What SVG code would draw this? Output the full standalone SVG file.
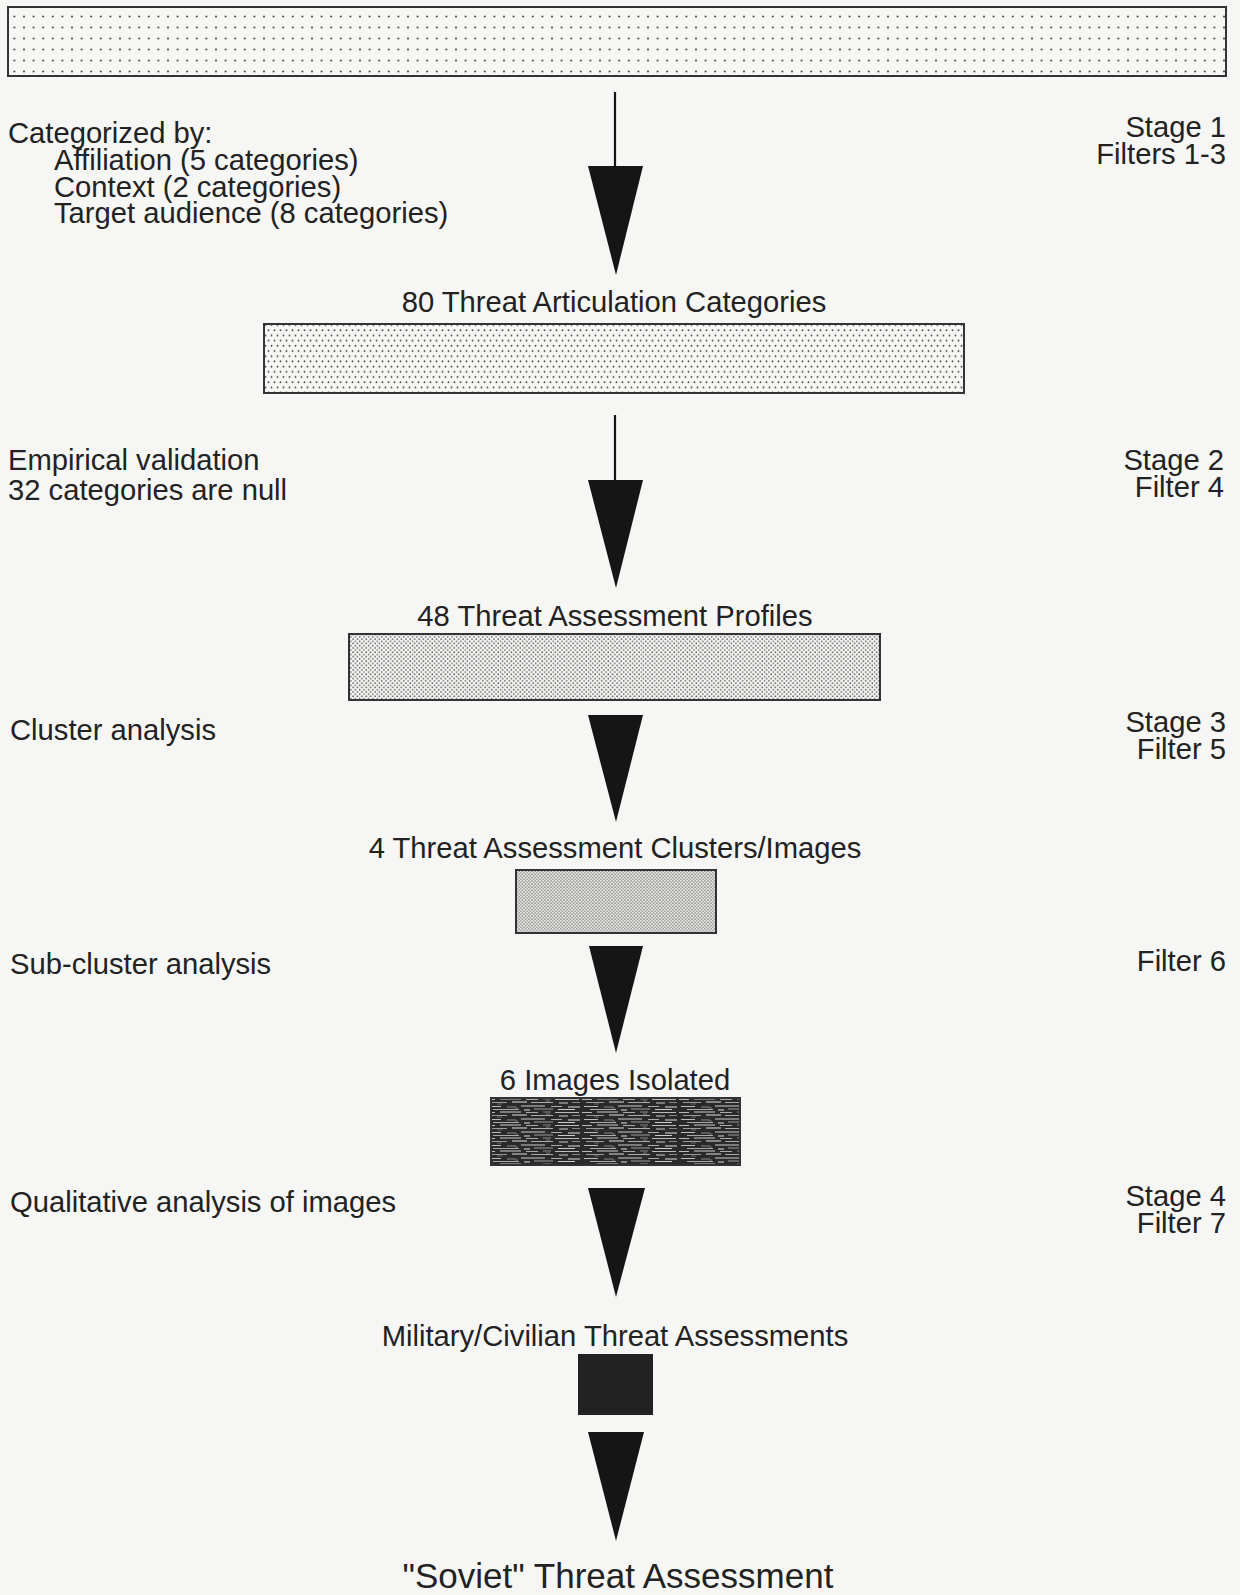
<svg xmlns="http://www.w3.org/2000/svg" width="1240" height="1595" viewBox="0 0 1240 1595">
<style>
.t{font-family:"Liberation Sans",Arial,Helvetica,sans-serif;font-size:29.2px;fill:#222}
.m{text-anchor:middle}
.r{text-anchor:end}
.box{stroke:#333;stroke-width:2}
.tri{fill:#151515}
.ln{stroke:#151515;stroke-width:2.2;fill:none}
</style>
<defs>
<pattern id="p1" width="9.6" height="11" patternUnits="userSpaceOnUse"><circle cx="4.8" cy="5.5" r="1" fill="#444"/></pattern>
<pattern id="p2" width="6" height="10.4" patternUnits="userSpaceOnUse"><circle cx="1.5" cy="2.6" r="0.95" fill="#444"/><circle cx="4.5" cy="7.8" r="0.95" fill="#444"/></pattern>
<pattern id="p3" width="4.4" height="4.4" patternUnits="userSpaceOnUse"><circle cx="1.1" cy="1.1" r="0.85" fill="#555"/><circle cx="3.3" cy="3.3" r="0.85" fill="#666"/></pattern>
<pattern id="p4" width="3.2" height="3.2" patternUnits="userSpaceOnUse"><rect width="3.2" height="3.2" fill="#e6e6e4"/><circle cx="0.8" cy="0.8" r="0.7" fill="#666"/><circle cx="2.4" cy="2.4" r="0.7" fill="#777"/></pattern>
<pattern id="p5" width="97" height="13" patternUnits="userSpaceOnUse"><rect width="97" height="13" fill="#2a2a2a"/>
<rect x="2" y="1" width="14" height="1" fill="#bbb"/><rect x="22" y="1.5" width="9" height="1" fill="#888"/><rect x="36" y="0.5" width="24" height="1" fill="#ccc"/><rect x="66" y="1" width="11" height="1" fill="#aaa"/><rect x="83" y="1.5" width="12" height="1" fill="#ddd"/>
<rect x="8" y="4" width="26" height="1" fill="#aaa"/><rect x="39" y="4.5" width="6" height="1" fill="#ddd"/><rect x="49" y="3.5" width="19" height="1" fill="#999"/><rect x="73" y="4" width="17" height="1" fill="#ccc"/>
<rect x="0" y="7" width="10" height="1" fill="#bbb"/><rect x="15" y="6.5" width="21" height="1" fill="#ccc"/><rect x="41" y="7" width="12" height="1" fill="#aaa"/><rect x="58" y="6.5" width="8" height="1" fill="#888"/><rect x="70" y="7" width="24" height="1" fill="#bbb"/>
<rect x="4" y="10" width="18" height="1" fill="#999"/><rect x="27" y="9.5" width="15" height="1" fill="#ddd"/><rect x="46" y="10" width="22" height="1" fill="#aaa"/><rect x="74" y="10.5" width="9" height="1" fill="#ccc"/><rect x="87" y="10" width="8" height="1" fill="#888"/>
<rect x="30" y="2.5" width="3" height="1" fill="#777"/><rect x="61" y="8.5" width="4" height="1" fill="#777"/><rect x="12" y="11.5" width="5" height="1" fill="#666"/></pattern>
</defs>
<rect width="1240" height="1595" fill="#f6f6f4"/>

<g id="node-input">
<rect class="box" x="8" y="7" width="1218" height="69" fill="url(#p1)"/>
</g>

<g id="connectors">
<g id="arrow1"><line class="ln" x1="615" y1="92" x2="615" y2="170"/><polygon class="tri" points="588,166 643,166 616,275"/></g>
<g id="arrow2"><line class="ln" x1="615" y1="415" x2="615" y2="484"/><polygon class="tri" points="588,480 643,480 616,588"/></g>
<g id="arrow3"><polygon class="tri" points="588,715 643,715 616,822"/></g>
<g id="arrow4"><polygon class="tri" points="589,946 643,946 616,1053"/></g>
<g id="arrow5"><polygon class="tri" points="588,1188 645,1188 616,1297"/></g>
<g id="arrow6"><polygon class="tri" points="588,1432 644,1432 616,1541"/></g>
</g>

<g id="stage1-labels">
<text class="t" x="8" y="143">Categorized by:</text>
<text class="t" x="54" y="170">Affiliation (5 categories)</text>
<text class="t" x="54" y="197">Context (2 categories)</text>
<text class="t" x="54" y="223">Target audience (8 categories)</text>
<text class="t r" x="1226" y="137">Stage 1</text>
<text class="t r" x="1226" y="164">Filters 1-3</text>
</g>

<g id="node-80">
<text class="t m" x="614" y="312">80 Threat Articulation Categories</text>
<rect class="box" x="264" y="324" width="700" height="69" fill="url(#p2)"/>
</g>

<g id="stage2-labels">
<text class="t" x="8" y="470">Empirical validation</text>
<text class="t" x="8" y="500">32 categories are null</text>
<text class="t r" x="1224" y="470">Stage 2</text>
<text class="t r" x="1224" y="497">Filter 4</text>
</g>

<g id="node-48">
<text class="t m" x="615" y="626">48 Threat Assessment Profiles</text>
<rect class="box" x="349" y="634" width="531" height="66" fill="url(#p3)"/>
</g>

<g id="stage3-labels">
<text class="t" x="10" y="740">Cluster analysis</text>
<text class="t r" x="1226" y="732">Stage 3</text>
<text class="t r" x="1226" y="759">Filter 5</text>
</g>

<g id="node-4">
<text class="t m" x="615" y="858">4 Threat Assessment Clusters/Images</text>
<rect class="box" x="516" y="870" width="200" height="63" fill="url(#p4)"/>
</g>

<g id="filter6-labels">
<text class="t" x="10" y="974">Sub-cluster analysis</text>
<text class="t r" x="1226" y="971">Filter 6</text>
</g>

<g id="node-6">
<text class="t m" x="615" y="1090">6 Images Isolated</text>
<rect class="box" x="491" y="1098" width="249" height="67" fill="url(#p5)"/>
</g>

<g id="stage4-labels">
<text class="t" x="10" y="1212">Qualitative analysis of images</text>
<text class="t r" x="1226" y="1206">Stage 4</text>
<text class="t r" x="1226" y="1233">Filter 7</text>
</g>

<g id="node-mil">
<text class="t m" x="615" y="1346">Military/Civilian Threat Assessments</text>
<rect x="578" y="1354" width="75" height="61" fill="#222"/>
</g>

<g id="node-soviet">
<text class="t m" x="618" y="1588" style="font-size:35px">"Soviet" Threat Assessment</text>
</g>
</svg>
